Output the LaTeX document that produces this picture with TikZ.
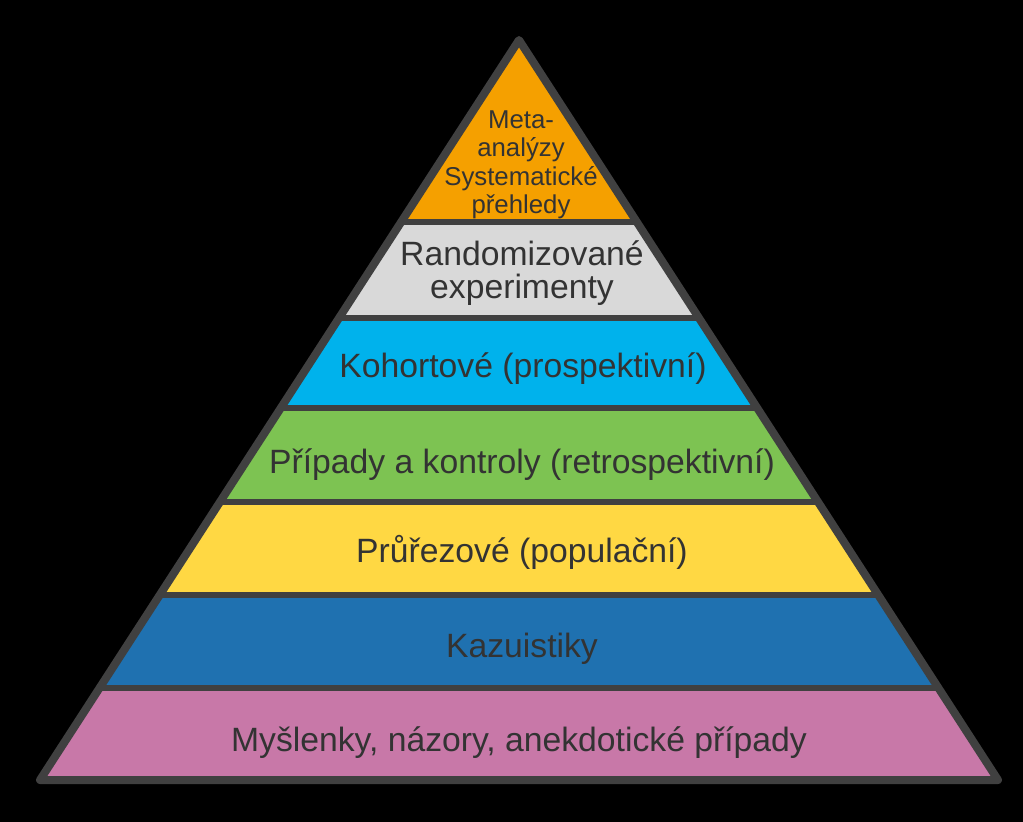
\documentclass[tikz,border=0pt]{standalone}
\usepackage{fontspec}
\setmainfont{Liberation Sans}
\usepackage{tikz}
\usetikzlibrary{calc,positioning}
\definecolor{Pyr_Orange}{HTML}{F5A000}
\definecolor{Pyr_Gray}{HTML}{D9D9D9}
\definecolor{Pyr_Cyan}{HTML}{00B2EC}
\definecolor{Pyr_Green}{HTML}{7DC352}
\definecolor{Pyr_Yellow}{HTML}{FFD843}
\definecolor{Pyr_Blue}{HTML}{1F71B0}
\definecolor{Pyr_Pink}{HTML}{C878A8}
\definecolor{Pyr_Line}{HTML}{404040}
\definecolor{Pyr_Text}{HTML}{333333}

\begin{document}
\begin{tikzpicture}[x=1pt, y=-1pt,
    layertext/.style={text=Pyr_Text, font=\fontsize{33.7}{32.5}\selectfont, align=center, inner sep=0pt},
    toptext/.style={text=Pyr_Text, font=\fontsize{25.8}{28.5}\selectfont, align=center, inner sep=0pt},
    divider/.style={Pyr_Line, line width=6pt}]
    % Background
    \fill[black] (0,0) rectangle (1023,822);
    \useasboundingbox (0,0) rectangle (1023,822);

    % Pyramid corners
    \coordinate (apex) at (519,40);
    \coordinate (bl) at (40,780);
    \coordinate (br) at (998,780);

    % Layer boundaries (left / right ends)
    \coordinate (L1) at ($(apex)!0.2459!(bl)$);  \coordinate (R1) at ($(apex)!0.2459!(br)$);
    \coordinate (L2) at ($(apex)!0.3757!(bl)$);  \coordinate (R2) at ($(apex)!0.3757!(br)$);
    \coordinate (L3) at ($(apex)!0.4973!(bl)$);  \coordinate (R3) at ($(apex)!0.4973!(br)$);
    \coordinate (L4) at ($(apex)!0.6243!(bl)$);  \coordinate (R4) at ($(apex)!0.6243!(br)$);
    \coordinate (L5) at ($(apex)!0.7500!(bl)$);  \coordinate (R5) at ($(apex)!0.7500!(br)$);
    \coordinate (L6) at ($(apex)!0.8757!(bl)$);  \coordinate (R6) at ($(apex)!0.8757!(br)$);

    % Layer fills
    \fill[Pyr_Orange] (apex) -- (R1) -- (L1) -- cycle;
    \fill[Pyr_Gray] (L1) -- (R1) -- (R2) -- (L2) -- cycle;
    \fill[Pyr_Cyan] (L2) -- (R2) -- (R3) -- (L3) -- cycle;
    \fill[Pyr_Green] (L3) -- (R3) -- (R4) -- (L4) -- cycle;
    \fill[Pyr_Yellow] (L4) -- (R4) -- (R5) -- (L5) -- cycle;
    \fill[Pyr_Blue] (L5) -- (R5) -- (R6) -- (L6) -- cycle;
    \fill[Pyr_Pink] (L6) -- (R6) -- (br) -- (bl) -- cycle;

    % Dividers between layers
    \draw[divider] (L1) -- (R1);
    \draw[divider] (L2) -- (R2);
    \draw[divider] (L3) -- (R3);
    \draw[divider] (L4) -- (R4);
    \draw[divider] (L5) -- (R5);
    \draw[divider] (L6) -- (R6);

    % Outline
    \draw[Pyr_Line, line width=8pt, line join=round] (apex) -- (br) -- (bl) -- cycle;

    % Labels
    \node[toptext] (meta) at (521,165) {Meta-\\analýzy\\Systematické\\přehledy};
    \node[layertext] (rct) at (522,273) {Randomizované\\experimenty};
    \node[layertext] (cohort) at (523,369) {Kohortové (prospektivní)};
    \node[layertext] (casectl) at (522,465) {Případy a kontroly (retrospektivní)};
    \node[layertext] (cross) at (522,552) {Průřezové (populační)};
    \node[layertext] (cases) at (522,649) {Kazuistiky};
    \node[layertext] (opinion) at (519,743) {Myšlenky, názory, anekdotické případy};
\end{tikzpicture}
\end{document}
